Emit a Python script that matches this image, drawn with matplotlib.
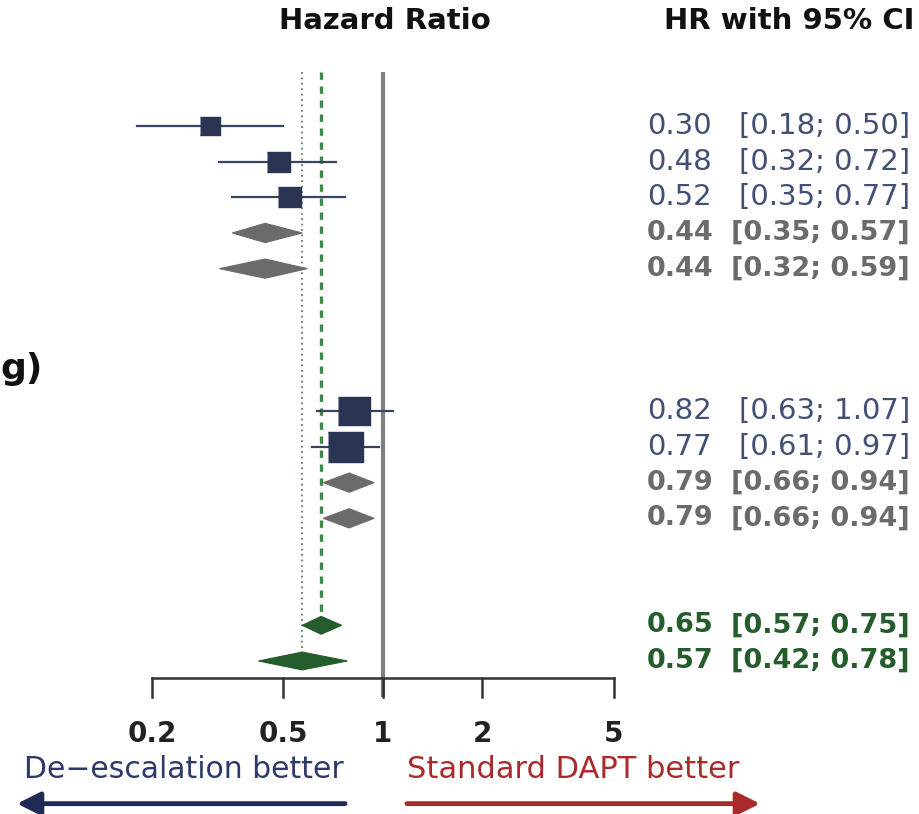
import numpy as np
import matplotlib
matplotlib.use('Agg')
import matplotlib.pyplot as plt
import matplotlib.transforms as mtransforms
from matplotlib.patches import Polygon

# single studies (blue boxes)
study_rows = [0, 1, 2, 8, 9]
study_hr = [0.30, 0.48, 0.52, 0.82, 0.77]
study_lo = [0.18, 0.32, 0.35, 0.63, 0.61]
study_hi = [0.50, 0.72, 0.77, 1.07, 0.97]
study_w = [20, 23, 23, 32, 35]  # box size ~ weight

# subgroup pooled estimates (grey diamonds)
sub_rows = [3, 4, 10, 11]
sub_hr = [0.44, 0.44, 0.79, 0.79]
sub_lo = [0.35, 0.32, 0.66, 0.66]
sub_hi = [0.57, 0.59, 0.94, 0.94]

# overall estimates (green diamonds)
tot_rows = [14, 15]
tot_hr = [0.65, 0.57]
tot_lo = [0.57, 0.42]
tot_hi = [0.75, 0.78]

ticks = [0.2, 0.5, 1, 2, 5]
tick_labels = ['0.2', '0.5', '1', '2', '5']

blue = '#2b3452'
blue_txt = '#435075'
grey = '#6b6b6b'
green = '#245c2c'
red = '#a82a2a'

plt.rcParams['font.family'] = ['DejaVu Sans']

fig = plt.figure(figsize=(9.2, 8.14), dpi=100)
ax = fig.add_axes([0, 0, 1, 1])
ax.set_xscale('log')
ax.set_xlim(0.0694, 42.14)
ax.set_ylim(19.29, -3.532)
ax.axis('off')

# x in figure-pixel fraction, y in rows
tr = mtransforms.blended_transform_factory(ax.transAxes, ax.transData)
W = 920.0

# reference lines
ax.plot([1, 1], [-1.5, 16.0], color='#7f7f7f', lw=3.0, solid_capstyle='butt', zorder=1)
ax.plot([tot_hr[1]] * 2, [-1.5, 14.75], color='#5f7f62', lw=1.3, ls=(0, (1, 2)), zorder=1)
ax.plot([tot_hr[0]] * 2, [-1.5, 13.7], color='#3d8a48', lw=2.4, ls=(0, (2.2, 2.0)), zorder=1)

# studies
box = [(-1.15, -1), (1.15, -1), (1.15, 1), (-1.15, 1)]
for r, hr, lo, hi, w in zip(study_rows, study_hr, study_lo, study_hi, study_w):
    ax.plot([lo, hi], [r, r], color='#3a4262', lw=1.6, zorder=2)
    ax.plot([hr], [r], marker=box, markersize=w * 0.72, color=blue, mec=blue, zorder=3)
    ax.text(647 / W, r, '%.2f' % hr, transform=tr, ha='left', va='center',
            fontsize=21, color=blue_txt)
    ax.text(910 / W, r, '[%.2f; %.2f]' % (lo, hi), transform=tr, ha='right', va='center',
            fontsize=21, color=blue_txt)

# diamonds
def diamond(r, hr, lo, hi, h, col):
    ax.add_patch(Polygon([(lo, r), (hr, r - h), (hi, r), (hr, r + h)],
                         closed=True, fc=col, ec=col, lw=0.8, zorder=3))

for r, hr, lo, hi in zip(sub_rows, sub_hr, sub_lo, sub_hi):
    diamond(r, hr, lo, hi, 0.27, grey)
    ax.text(647 / W, r, '%.2f' % hr, transform=tr, ha='left', va='center',
            fontsize=19.5, color=grey, fontweight='bold')
    ax.text(910 / W, r, '[%.2f; %.2f]' % (lo, hi), transform=tr, ha='right', va='center',
            fontsize=19.5, color=grey, fontweight='bold')

for r, hr, lo, hi in zip(tot_rows, tot_hr, tot_lo, tot_hi):
    diamond(r, hr, lo, hi, 0.25, green)
    ax.text(647 / W, r, '%.2f' % hr, transform=tr, ha='left', va='center',
            fontsize=19.5, color=green, fontweight='bold')
    ax.text(910 / W, r, '[%.2f; %.2f]' % (lo, hi), transform=tr, ha='right', va='center',
            fontsize=19.5, color=green, fontweight='bold')

# x axis
ax.plot([ticks[0], ticks[-1]], [15.475, 15.475], color='#333333', lw=1.8, zorder=2)
for t, lab in zip(ticks, tick_labels):
    ax.plot([t, t], [15.475, 16.0], color='#333333', lw=1.8, zorder=2)
    ax.text(t, 17.05, lab, ha='center', va='center', fontsize=20,
            fontweight='bold', color='#222222')

# headers
ax.text(385 / W, -2.95, 'Hazard Ratio', transform=tr, ha='center', va='center',
        fontsize=21, fontweight='bold', color='#111111')
ax.text(915 / W, -2.95, 'HR with 95% CI', transform=tr, ha='right', va='center',
        fontsize=21, fontweight='bold', color='#111111')

# visible end of the cropped row label on the left
ax.text(0, 6.8, 'g)', transform=tr, ha='left', va='center',
        fontsize=26, fontweight='bold', color='#111111')

# direction labels and arrows
ax.text(184 / W, 18.05, 'De\u2212escalation better', transform=tr, ha='center', va='center',
        fontsize=21.5, color='#2b3a6a')
ax.text(573 / W, 18.05, 'Standard DAPT better', transform=tr, ha='center', va='center',
        fontsize=22, color=red)
ax.annotate('', xy=(17 / W, 19.0), xytext=(345 / W, 19.0), xycoords=tr, textcoords=tr,
            arrowprops=dict(arrowstyle='-|>,head_length=0.7,head_width=0.35', lw=3.5,
                            color='#1f2a55', mutation_scale=20, shrinkA=0, shrinkB=0))
ax.annotate('', xy=(760 / W, 19.0), xytext=(407 / W, 19.0), xycoords=tr, textcoords=tr,
            arrowprops=dict(arrowstyle='-|>,head_length=0.7,head_width=0.35', lw=3.5,
                            color=red, mutation_scale=20, shrinkA=0, shrinkB=0))

fig.savefig('out.png', dpi=100)
